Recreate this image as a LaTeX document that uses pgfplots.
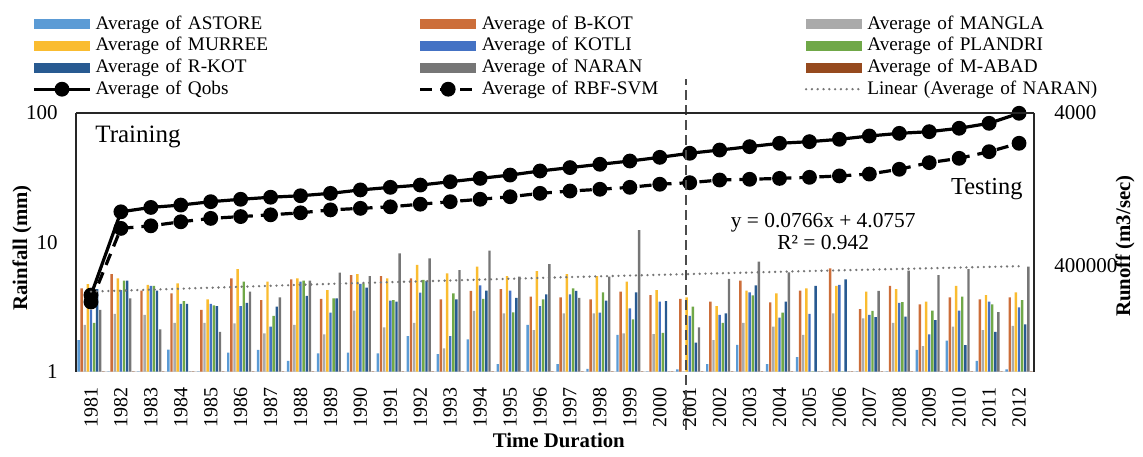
\documentclass[border=0pt]{standalone}
\usepackage{fontspec}
\setmainfont{Liberation Serif}
\usepackage{pgfplots}
\usepackage{pgfplotstable}
\pgfplotsset{compat=1.18}

\definecolor{cAstore}{RGB}{91,155,213}
\definecolor{cBkot}{RGB}{204,110,58}
\definecolor{cMangla}{RGB}{170,170,170}
\definecolor{cMurree}{RGB}{250,188,48}
\definecolor{cKotli}{RGB}{68,114,196}
\definecolor{cPlandri}{RGB}{112,168,72}
\definecolor{cRkot}{RGB}{40,90,145}
\definecolor{cNaran}{RGB}{118,118,118}
\definecolor{cMabad}{RGB}{150,74,30}

\pgfplotstableread{
year astore bkot mangla murree kotli plandri rkot naran mabad qobs rbf
1981 1.75 4.40 2.29 4.75 3.00 2.38 4.33 3.00 0.5 3.9 3.45
1982 0.5 5.68 2.79 5.25 4.27 5.05 5.05 3.68 0.5 17.2 12.8
1983 0.5 4.22 2.74 4.67 4.60 4.60 4.22 2.12 0.5 18.6 13.4
1984 1.48 4.02 2.38 4.81 3.33 3.50 3.33 0.5 0.5 19.4 14.4
1985 0.5 3.00 2.38 3.61 3.33 3.25 3.21 2.03 0.5 20.6 15.3
1986 1.40 5.25 2.36 6.20 3.21 4.95 3.40 4.15 0.5 21.5 15.8
1987 1.47 3.57 1.97 4.95 2.22 2.69 3.17 3.75 0.5 22.3 16.3
1988 1.21 5.16 2.29 5.25 4.95 5.05 3.84 5.05 0.5 22.9 16.9
1989 1.38 3.65 1.94 4.27 2.85 3.68 3.68 5.82 0.5 23.9 17.8
1990 1.40 5.58 2.96 5.68 4.76 4.81 4.45 5.48 0.5 25.4 18.3
1991 1.38 5.48 2.20 5.25 3.53 3.57 3.47 8.21 0.5 26.6 18.8
1992 1.88 5.25 2.38 6.67 4.07 5.11 5.02 7.52 0.5 27.7 19.7
1993 1.36 3.61 1.51 5.75 1.88 4.02 3.61 6.10 0.5 29.4 20.6
1994 1.77 4.20 2.94 6.48 4.64 3.64 4.22 8.60 0.5 31.2 21.5
1995 1.14 4.33 2.82 5.48 4.22 2.87 3.72 5.42 0.5 33.1 22.5
1996 2.29 3.79 2.09 5.99 3.21 3.61 3.95 6.76 0.5 35.6 23.9
1997 1.14 3.75 2.82 5.68 3.95 4.40 4.20 3.72 0.5 37.8 24.9
1998 1.05 3.61 2.82 5.48 2.85 4.09 3.53 5.42 0.5 40.1 25.7
1999 1.92 4.15 1.97 4.95 3.08 2.53 4.09 12.4 0.5 42.5 26.6
2000 0.5 3.90 1.95 4.27 3.47 1.99 3.50 0.5 0.5 45.4 28.1
2001 1.04 3.65 0.5 3.75 2.69 3.17 1.67 2.20 0.5 48.8 28.9
2002 1.14 3.47 1.75 3.21 2.74 2.38 2.82 5.20 0.5 51.7 30.3
2003 1.61 5.05 2.38 4.22 4.09 3.88 4.64 7.08 0.5 54.9 30.7
2004 1.14 3.43 2.22 4.02 2.61 2.85 3.47 5.86 0.5 58.3 31.2
2005 1.29 4.22 1.92 4.40 2.79 0.5 4.60 0.5 0.5 60.0 31.8
2006 0.5 6.29 2.82 4.60 4.67 0.5 5.16 0.5 0.5 62.6 32.6
2007 0.5 3.04 2.58 4.15 2.74 2.94 2.63 4.20 0.5 66.4 33.7
2008 0.5 4.60 2.38 4.33 3.40 3.44 2.66 6.04 0.5 69.6 36.7
2009 1.47 3.30 1.57 3.47 1.94 2.96 2.50 5.58 0.5 71.7 41.3
2010 1.73 3.75 2.22 4.60 2.96 3.79 1.60 6.20 0.5 76.2 44.6
2011 1.21 3.61 2.09 3.90 3.47 3.30 2.03 2.88 0.5 83.2 50.2
2012 1.04 3.75 2.25 4.09 3.13 3.57 2.32 6.48 0.5 99.5 58.3
}\datatable

\pgfplotsset{
  mybar/.style 2 args={ybar, bar width=1.2pt, bar shift=#2, draw=none, fill=#1,
    legend image code/.code={\fill[#1] (0pt,-2.5pt) rectangle (28pt,2.5pt);}},
  myline/.style={legend image code/.code={\draw[mark repeat=2,mark phase=2,##1] plot coordinates {(0pt,0pt) (14pt,0pt) (28pt,0pt)};}},
}

\begin{document}
\begin{tikzpicture}
\useasboundingbox (-38pt,-42.25pt) rectangle (533.5pt,185.75pt);
\begin{axis}[
  scale only axis, width=479pt, height=129.25pt,
  xmin=1980.5, xmax=2012.5,
  ymode=log, ymin=1, ymax=100,
  ytick={1,10,100}, yticklabels={1,10,100},
  xtick={1981,...,2012},
  major tick length=0pt, minor tick length=0pt,
  axis x line*=bottom, axis y line*=left,
  x axis line style={color=black!15, line width=0.9pt},
  y axis line style={color=black!85, line width=0.9pt},
  xticklabel style={font=\fontsize{10}{12}\selectfont, yshift=-8pt, rotate=90, anchor=east, inner sep=0pt},
  yticklabel style={font=\fontsize{10.5}{12}\selectfont, xshift=-9pt, anchor=east, inner sep=0pt},
  /pgf/number format/1000 sep={},
  /pgf/number format/assume math mode=true,
  xlabel={\textbf{Time Duration}},
  ylabel={\textbf{Rainfall (mm)}},
  every axis x label/.style={at={([yshift=-34.25pt]axis description cs:0.504,0)}, anchor=center, font=\fontsize{10.4}{12}\selectfont},
  every axis y label/.style={at={([xshift=-27pt]axis description cs:0,0.478)}, anchor=center, rotate=90, font=\fontsize{10.4}{12}\selectfont},
  clip mode=individual,
  legend columns=3,
  legend cell align=left,
  legend style={draw=none, fill=none, at={(0,1)}, anchor=north west, xshift=-25pt, yshift=51pt,
    font=\fontsize{9.6}{11}\selectfont,
    nodes={inner sep=0pt, text width=161.5pt, align=left, text height=7pt, text depth=2pt},
    row sep=1.8pt,
    /tikz/every odd column/.append style={column sep=2pt}},
]
\addplot[mybar={cAstore}{-6.2pt}] table[x=year,y=astore]{\datatable};
\addlegendentry{Average of ASTORE}
\addplot[mybar={cBkot}{-4.65pt}] table[x=year,y=bkot]{\datatable};
\addlegendentry{Average of B-KOT}
\addplot[mybar={cMangla}{-3.1pt}] table[x=year,y=mangla]{\datatable};
\addlegendentry{Average of MANGLA}
\addplot[mybar={cMurree}{-1.55pt}] table[x=year,y=murree]{\datatable};
\addlegendentry{Average of MURREE}
\addplot[mybar={cKotli}{0pt}] table[x=year,y=kotli]{\datatable};
\addlegendentry{Average of KOTLI}
\addplot[mybar={cPlandri}{1.55pt}] table[x=year,y=plandri]{\datatable};
\addlegendentry{Average of PLANDRI}
\addplot[mybar={cRkot}{3.1pt}] table[x=year,y=rkot]{\datatable};
\addlegendentry{Average of R-KOT}
\addplot[mybar={cNaran}{4.65pt}] table[x=year,y=naran]{\datatable};
\addlegendentry{Average of NARAN}
\addplot[mybar={cMabad}{6.2pt}] table[x=year,y=mabad]{\datatable};
\addlegendentry{Average of M-ABAD}
\addplot[myline, black, line width=1.6pt, mark=*, mark size=2.9pt, mark options={solid}] table[x=year,y=qobs]{\datatable};
\addlegendentry{Average of Qobs}
\addplot[myline, black, line width=1.6pt, dash pattern=on 6pt off 4pt, mark=*, mark size=2.9pt, mark options={solid}] table[x=year,y=rbf]{\datatable};
\addlegendentry{Average of RBF-SVM}
\addplot[myline, cNaran, line width=1.3pt, dash pattern=on 0pt off 2.9pt, line cap=round] coordinates {(1981,4.152) (1989,4.765) (1997,5.378) (2005,5.991) (2012,6.527)};
\addlegendentry{Linear (Average of NARAN)}
\draw[black!70, line width=0.6pt, dash pattern=on 5pt off 2.5pt] (rel axis cs:0.6367,-0.226) -- (rel axis cs:0.6367,1.13);
\node[anchor=west, font=\fontsize{12.5}{14}\selectfont, inner sep=0pt] at (rel axis cs:0.0198,0.907) {Training};
\node[anchor=east, font=\fontsize{12.2}{14}\selectfont, inner sep=0pt] at (rel axis cs:0.9885,0.706) {Testing};
\node[align=center, font=\fontsize{10.7}{11}\selectfont, inner sep=0pt] at (rel axis cs:0.78,0.54) {y = 0.0766x + 4.0757\\R² = 0.942};
\end{axis}
\begin{axis}[
  scale only axis, width=479pt, height=129.25pt,
  xmin=0, xmax=1, ymin=0, ymax=1,
  axis x line*=top, axis y line*=right,
  xtick=\empty,
  ytick={0.408,1}, yticklabels={400000,4000},
  major tick length=0pt,
  axis line style={color=black!85, line width=0.9pt},
  yticklabel style={font=\fontsize{10.5}{12}\selectfont, xshift=10pt, anchor=west, inner sep=0pt},
  ylabel={\textbf{Runoff (m3/sec)}},
  every axis y label/.style={at={([xshift=45.5pt]axis description cs:1,0.485)}, anchor=center, rotate=90, font=\fontsize{10.4}{12}\selectfont},
]
\end{axis}
\end{tikzpicture}
\end{document}
